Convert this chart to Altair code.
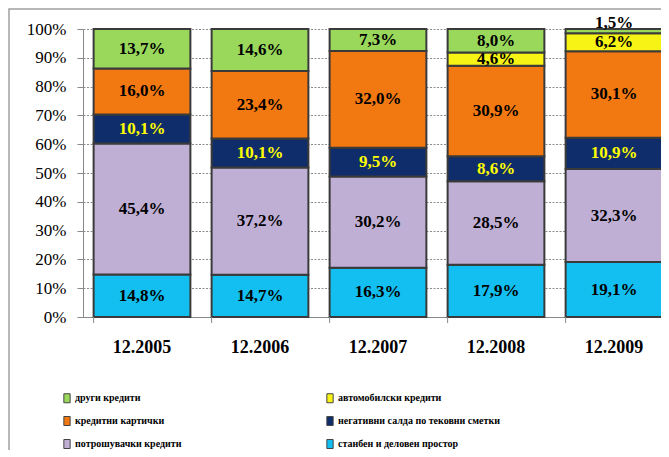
import altair as alt
import pandas as pd

years = ["12.2005", "12.2006", "12.2007", "12.2008", "12.2009"]

series = [
    "станбен и деловен простор",
    "потрошувачки кредити",
    "негативни салда по тековни сметки",
    "кредитни картички",
    "автомобилски кредити",
    "други кредити",
]

stanben = [14.8, 14.7, 16.3, 17.9, 19.1]
potrosuvacki = [45.4, 37.2, 30.2, 28.5, 32.3]
negativni = [10.1, 10.1, 9.5, 8.6, 10.9]
kartichki = [16.0, 23.4, 32.0, 30.9, 30.1]
avtomobilski = [0.0, 0.0, 0.0, 4.6, 6.2]
drugi = [13.7, 14.6, 7.3, 8.0, 1.5]

y_ticks = [0.0, 0.1, 0.2, 0.3, 0.4, 0.5, 0.6, 0.7, 0.8, 0.9, 1.0]

values = [stanben, potrosuvacki, negativni, kartichki, avtomobilski, drugi]
colors = ["#12BFF0", "#C0AFD5", "#0F2C6B", "#F27812", "#F6F315", "#9AD85C"]

# legend is filled column by column: left column first, then right column
legend_order = [
    "други кредити",
    "кредитни картички",
    "потрошувачки кредити",
    "автомобилски кредити",
    "негативни салда по тековни сметки",
    "станбен и деловен простор",
]
legend_colors = [colors[series.index(s)] for s in legend_order]

rows = []
for i, (s, vals) in enumerate(zip(series, values)):
    for y, v in zip(years, vals):
        rows.append({"year": y, "series": s, "idx": i, "value": v,
                     "label": f"{v:.1f}".replace(".", ",") + "%"})
df = pd.DataFrame(rows)
df = df[df["value"] > 0]

SERIF = "Liberation Serif"

xscale = alt.Scale(domain=years, range=[0, 590], paddingInner=0.18, paddingOuter=0.09)
yscale = alt.Scale(domain=[0, 1])

xaxis = alt.Axis(title=None, labelAngle=0, labelFont=SERIF, labelFontWeight="bold",
                 labelFontSize=18, labelColor="black", ticks=False, grid=False,
                 domainColor="#888888", labelPadding=21)
yaxis = alt.Axis(title=None, values=y_ticks, format=".0%", labelFont=SERIF,
                 labelFontSize=17, labelColor="black", labelOverlap=False,
                 tickSize=6, tickColor="#888888", domainColor="#888888", labelPadding=11,
                 grid=True, gridDash=[2, 1.5], gridColor="#8c8c8c", gridWidth=1)

base = alt.Chart(df)

bars = base.mark_bar(stroke="#3a3a3a", strokeWidth=2).encode(
    x=alt.X("year:N", scale=xscale, sort=years, axis=xaxis),
    y=alt.Y("value:Q", stack="normalize", scale=yscale, axis=yaxis),
    color=alt.Color("series:N",
                    scale=alt.Scale(domain=legend_order, range=legend_colors),
                    legend=alt.Legend(orient="none", legendX=-21, legendY=364, columns=2,
                                      title=None, labelFont=SERIF, labelFontWeight="bold",
                                      labelFontSize=10, labelColor="black", labelLimit=400,
                                      symbolType="M-0.7,-1L0.7,-1L0.7,1L-0.7,1Z",
                                      symbolSize=81, symbolStrokeColor="#444444",
                                      symbolStrokeWidth=1, symbolOpacity=1,
                                      labelOffset=3, columnPadding=142, rowPadding=9)),
    order=alt.Order("idx:Q", sort="ascending"),
)

text = base.transform_stack(
    stack="value", groupby=["year"], sort=[alt.SortField("idx", order="ascending")],
    as_=["v0", "v1"], offset="normalize"
).transform_calculate(
    mid="(datum.v0 + datum.v1) / 2 + (datum.value < 2 ? 0.03 : 0)"
).mark_text(font=SERIF, fontWeight="bold", fontSize=17, baseline="middle").encode(
    x=alt.X("year:N", scale=xscale, sort=years, axis=xaxis),
    y=alt.Y("mid:Q", scale=yscale, axis=yaxis),
    text="label:N",
    color=alt.condition("datum.series == 'негативни салда по тековни сметки'",
                        alt.value("#FFFF00"), alt.value("black")),
)

ticks = alt.Chart(pd.DataFrame({"year": years})).mark_rule(color="#888888").encode(
    x=alt.X("year:N", scale=xscale, sort=years, bandPosition=0, axis=xaxis),
    y=alt.value(288), y2=alt.value(294),
)

frame = alt.Chart(pd.DataFrame({"a": [0]})).mark_rect(
    fill="transparent", stroke="#a0a0a0", strokeWidth=1.5
).encode(x=alt.value(-74), x2=alt.value(800), y=alt.value(-20), y2=alt.value(700))

chart = alt.layer(frame, bars, ticks, text).properties(
    width=578, height=288,
    autosize=alt.AutoSizeParams(type="none"),
    padding={"left": 75, "top": 21, "right": 0, "bottom": 133},
).configure_view(stroke="transparent")

chart.save("out.html", embed_options={"renderer": "svg", "actions": False})
